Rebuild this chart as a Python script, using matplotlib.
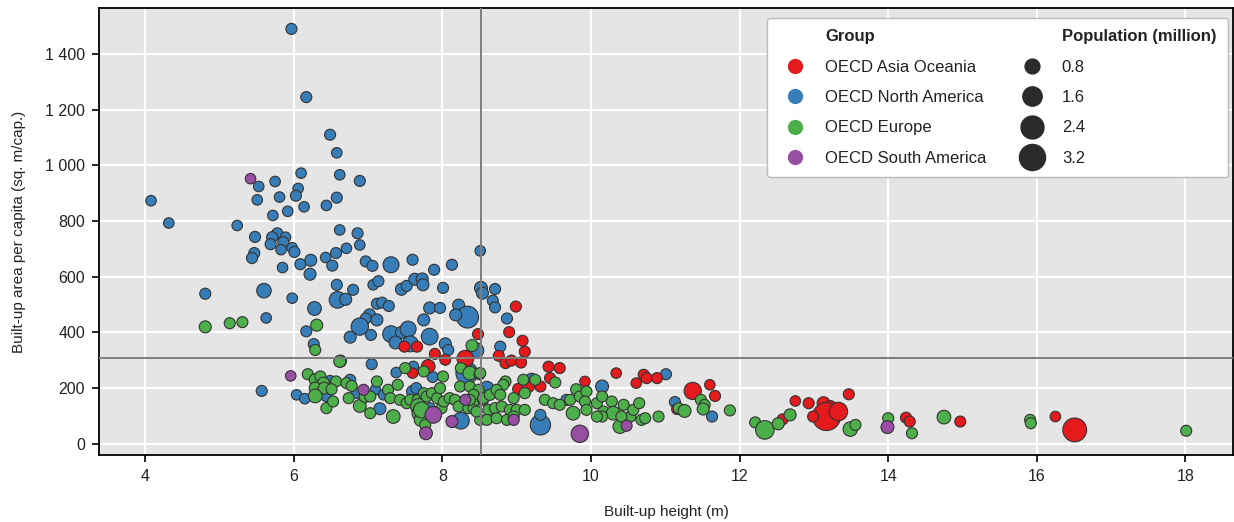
import matplotlib
matplotlib.use("Agg")
import matplotlib.pyplot as plt
from matplotlib.lines import Line2D
from matplotlib.ticker import FuncFormatter
import numpy as np

plt.rcParams['font.family'] = ['Liberation Sans', 'DejaVu Sans']

# ---------------- data ----------------
groups = ["OECD Asia Oceania", "OECD North America", "OECD Europe", "OECD South America"]
colors = ["#e41a1c", "#377eb8", "#4daf4a", "#984ea3"]

na_x = [5.97, 6.17, 6.49, 6.58, 6.10, 6.62, 6.89, 5.53, 5.75, 6.06, 6.03, 5.81, 5.51, 6.58, 6.44, 6.14,
        5.92, 5.72, 4.08, 4.32, 5.24, 5.48, 5.47, 5.44, 5.78, 5.71, 5.69, 5.89, 5.86, 5.83, 5.98, 6.01,
        5.85, 6.09, 6.23, 6.22, 6.43, 6.52, 6.57, 6.71, 6.62, 6.86, 6.89, 6.97, 7.06, 7.31, 7.60, 7.89,
        8.13, 8.51, 5.60, 5.98, 5.63, 4.81, 6.28, 6.58, 6.80, 6.59, 6.70, 7.07, 7.14, 7.45, 7.52, 7.63,
        7.73, 7.74, 8.01, 8.52, 8.54, 7.12, 7.19, 7.28, 7.83, 7.97, 8.22, 8.34, 8.18, 7.02, 6.97, 7.12,
        6.89, 6.17, 6.76, 7.04, 7.31, 7.45, 7.54, 7.37, 7.57, 7.83, 7.75, 8.04, 8.08, 8.45, 6.27, 7.05,
        8.71, 8.68, 8.71, 8.87, 8.78, 5.57, 6.04, 6.15, 7.38, 7.61, 6.49, 6.44, 6.76, 6.85, 7.10, 7.21,
        7.16, 7.60, 7.87, 8.33, 7.83, 8.25, 7.65, 8.60, 9.20, 9.32, 9.32, 9.67, 10.15, 11.01, 11.13, 11.63]
na_y = [1490, 1245, 1110, 1045, 972, 966, 944, 924, 942, 917, 891, 886, 876, 884, 856, 851,
        835, 820, 873, 793, 784, 743, 685, 667, 756, 742, 717, 742, 724, 697, 704, 689,
        633, 645, 659, 609, 669, 640, 685, 702, 768, 756, 714, 655, 639, 643, 661, 625,
        643, 693, 550, 523, 452, 539, 486, 571, 553, 517, 519, 571, 584, 555, 567, 591,
        592, 571, 560, 560, 541, 503, 507, 495, 488, 488, 498, 455, 463, 463, 450, 445,
        421, 404, 383, 391, 394, 400, 412, 364, 359, 385, 445, 359, 337, 335, 358, 286,
        556, 514, 490, 450, 349, 190, 176, 162, 256, 278, 227, 170, 230, 182, 194, 176,
        126, 188, 240, 254, 128, 83, 200, 200, 232, 68, 104, 158, 206, 250, 150, 98]
na_pop = [0.2, 0.2, 0.2, 0.15, 0.15, 0.15, 0.2, 0.15, 0.15, 0.15, 0.2, 0.15, 0.15, 0.2, 0.15, 0.15,
          0.15, 0.15, 0.15, 0.15, 0.15, 0.2, 0.2, 0.2, 0.2, 0.2, 0.2, 0.15, 0.2, 0.15, 0.15, 0.2,
          0.15, 0.2, 0.3, 0.3, 0.15, 0.2, 0.2, 0.15, 0.15, 0.2, 0.15, 0.2, 0.2, 0.8, 0.2, 0.2,
          0.2, 0.15, 0.6, 0.15, 0.15, 0.2, 0.5, 0.2, 0.2, 0.9, 0.3, 0.15, 0.2, 0.3, 0.2, 0.3,
          0.3, 0.3, 0.2, 0.4, 0.3, 0.2, 0.2, 0.2, 0.3, 0.2, 0.3, 1.8, 0.3, 0.3, 0.2, 0.3,
          1.0, 0.2, 0.3, 0.2, 0.9, 0.3, 0.8, 0.4, 0.8, 0.9, 0.3, 0.3, 0.2, 0.8, 0.2, 0.2,
          0.2, 0.2, 0.2, 0.2, 0.2, 0.2, 0.15, 0.15, 0.15, 0.15, 0.15, 0.15, 0.2, 0.15, 0.15, 0.15,
          0.3, 0.3, 0.2, 1.8, 0.2, 0.9, 0.2, 0.5, 0.3, 1.5, 0.2, 0.2, 0.4, 0.2, 0.2, 0.2]

ao_x = [8.48, 8.31, 8.04, 7.90, 7.49, 7.66, 8.99, 8.90, 9.08, 9.11, 8.76, 8.85, 8.93, 9.06, 9.43, 9.58,
        9.45, 10.34, 9.92, 10.61, 10.71, 10.75, 10.89, 9.02, 9.16, 9.32, 7.60, 7.81, 11.37, 11.60, 11.67,
        11.16, 12.58, 12.75, 12.93, 13.13, 13.22, 13.17, 13.33, 12.99, 13.47, 14.24, 14.29, 14.97,
        16.25, 16.51]
ao_y = [394, 306, 302, 323, 349, 349, 493, 401, 370, 331, 316, 290, 299, 292, 277, 272,
        236, 254, 224, 218, 248, 236, 236, 197, 206, 206, 254, 278, 190, 212, 172,
        125, 88, 154, 146, 146, 134, 98, 116, 98, 178, 94, 80, 80,
        98, 50]
ao_pop = [0.2, 0.9, 0.2, 0.2, 0.2, 0.2, 0.2, 0.2, 0.2, 0.2, 0.2, 0.2, 0.2, 0.2, 0.2, 0.2,
          0.2, 0.15, 0.15, 0.15, 0.2, 0.2, 0.2, 0.2, 0.3, 0.2, 0.15, 0.5, 1.0, 0.15, 0.2,
          0.2, 0.2, 0.15, 0.2, 0.4, 0.3, 3.2, 1.2, 0.2, 0.2, 0.2, 0.2, 0.2,
          0.15, 2.2]

eu_x = [4.81, 5.14, 5.31, 6.31, 6.29, 6.63, 8.40, 6.19, 6.29, 6.36, 6.40, 6.57, 6.29, 6.41, 6.51, 6.29,
        6.44, 6.53, 6.71, 6.78, 6.74, 6.89, 6.96, 7.03, 7.03, 7.12, 7.27, 7.30, 7.40, 7.34, 7.43, 7.52,
        7.57, 7.67, 7.75, 7.68, 7.70, 7.71, 7.77, 7.79, 7.86, 7.93, 7.97, 7.99, 8.02, 8.10, 8.17, 8.22,
        8.35, 8.42, 8.46, 8.55, 8.24, 8.37, 8.49, 7.50, 7.75, 8.01, 8.25, 8.37, 8.50, 8.51, 8.42, 8.55,
        8.64, 8.76, 8.85, 8.96, 9.09, 9.11, 9.25, 9.38, 9.49, 9.58, 9.72, 9.80, 9.85, 9.94, 9.92, 9.76,
        9.94, 10.08, 10.15, 10.17, 10.28, 10.30, 10.39, 10.44, 10.53, 10.57, 10.65, 10.68, 10.73, 10.91,
        8.62, 8.71, 8.80, 8.91, 9.00, 9.11, 8.51, 8.60, 8.73, 8.87, 8.96, 8.46, 8.37, 10.15, 10.41, 10.08,
        9.52, 11.18, 11.26, 11.48, 11.53, 11.51, 11.87, 12.21, 12.34, 12.52, 12.68, 13.49, 13.56, 14.00,
        14.32, 14.75, 15.91, 15.92, 18.01, 8.82, 8.73, 8.78, 7.72, 6.62]
eu_y = [420, 433, 437, 426, 337, 297, 353, 250, 230, 242, 218, 224, 200, 200, 196, 172,
        128, 152, 218, 208, 164, 136, 170, 170, 110, 224, 194, 164, 212, 98, 158, 146,
        158, 158, 182, 134, 110, 86, 68, 170, 182, 164, 200, 128, 152, 164, 158, 134,
        128, 128, 158, 158, 206, 206, 194, 272, 260, 242, 272, 254, 250, 254, 176, 164,
        176, 188, 224, 164, 230, 182, 230, 158, 146, 140, 158, 196, 170, 188, 152, 110,
        122, 146, 170, 116, 152, 110, 62, 140, 98, 122, 146, 86, 92, 98,
        122, 128, 134, 122, 122, 122, 86, 86, 92, 86, 98, 116, 158, 98, 98, 98,
        220, 128, 118, 158, 140, 125, 120, 77, 50, 72, 104, 53, 68, 92,
        38, 96, 86, 74, 47, 212, 194, 176, 122, 296]
eu_pop = [0.3, 0.2, 0.2, 0.3, 0.2, 0.3, 0.3, 0.2, 0.3, 0.2, 0.3, 0.2, 0.3, 0.3, 0.2, 0.5,
          0.2, 0.2, 0.2, 0.2, 0.2, 0.4, 0.3, 0.2, 0.2, 0.2, 0.2, 0.2, 0.2, 0.5, 0.2, 0.2,
          0.2, 0.2, 0.2, 0.8, 0.8, 0.4, 0.2, 0.2, 0.2, 0.2, 0.2, 0.2, 0.2, 0.2, 0.2, 0.2,
          0.2, 0.2, 0.2, 0.2, 0.2, 0.2, 0.2, 0.2, 0.2, 0.2, 0.2, 0.5, 0.2, 0.2, 0.2, 0.2,
          0.2, 0.2, 0.2, 0.2, 0.2, 0.2, 0.2, 0.2, 0.2, 0.2, 0.2, 0.2, 0.2, 0.2, 0.2, 0.5,
          0.2, 0.2, 0.2, 0.2, 0.2, 0.5, 0.5, 0.2, 0.2, 0.2, 0.2, 0.2, 0.2, 0.2,
          0.2, 0.2, 0.2, 0.2, 0.2, 0.2, 0.2, 0.2, 0.2, 0.2, 0.2, 0.2, 0.2, 0.2, 0.2, 0.2,
          0.2, 0.2, 0.4, 0.2, 0.2, 0.3, 0.2, 0.2, 1.2, 0.3, 0.3, 0.6, 0.2, 0.2,
          0.2, 0.5, 0.2, 0.2, 0.2, 0.2, 0.2, 0.2, 0.8, 0.3]

sa_x = [5.42, 5.96, 6.94, 7.78, 7.88, 8.13, 8.31, 8.96, 9.85, 10.48, 13.99]
sa_y = [952, 244, 194, 38, 104, 80, 158, 86, 36, 65, 60]
sa_pop = [0.15, 0.15, 0.2, 0.4, 0.9, 0.3, 0.2, 0.2, 1.0, 0.2, 0.4]

legend_pops = [0.8, 1.6, 2.4, 3.2]
height_threshold = 8.52
area_threshold = 309

x_ticks = [4, 6, 8, 10, 12, 14, 16, 18]
y_ticks = [0, 200, 400, 600, 800, 1000, 1200, 1400]


def size_of(p):
    return 40 + 115 * np.asarray(p, dtype=float)


# ---------------- figure ----------------
fig = plt.figure(figsize=(12.34, 5.22), dpi=100)
ax = fig.add_axes([0.0802, 0.1284, 0.9190, 0.8563])
ax.set_facecolor("#e5e5e5")

series = [
    (na_x, na_y, na_pop, colors[1]),
    (ao_x, ao_y, ao_pop, colors[0]),
    (eu_x, eu_y, eu_pop, colors[2]),
    (sa_x, sa_y, sa_pop, colors[3]),
]
for xs, ys, ps, c in series:
    ax.scatter(xs, ys, s=size_of(ps), c=c, edgecolors="#333333", linewidths=0.8, zorder=2)

ax.axvline(height_threshold, color="#7f7f7f", lw=1.4, zorder=3)
ax.axhline(area_threshold, color="#7f7f7f", lw=1.4, zorder=3)

ax.set_xlim(3.38, 18.64)
ax.set_ylim(-40, 1565)
ax.set_xticks(x_ticks)
ax.set_yticks(y_ticks)
ax.yaxis.set_major_formatter(FuncFormatter(lambda v, _: f"{v:,.0f}".replace(",", " ")))
ax.grid(True, color="white", lw=1.5, zorder=0)
ax.set_axisbelow(True)
for sp in ax.spines.values():
    sp.set_color("black")
    sp.set_linewidth(1.3)
ax.tick_params(direction="out", length=5, width=1.2, colors="black", labelsize=11.5,
               labelcolor="#222222", pad=5)

ax.set_xlabel("Built-up height (m)", fontsize=11, color="#222222", labelpad=15)
ax.set_ylabel("Built-up area per capita (sq. m/cap.)", fontsize=11, color="#222222", labelpad=14)

# legend
blank = Line2D([], [], linestyle="none", marker=None)
handles = [blank]
labels = ["Group"]
for g, c in zip(groups, colors):
    handles.append(Line2D([], [], linestyle="none", marker="o", markersize=11,
                          markerfacecolor=c, markeredgecolor="none"))
    labels.append(g)
handles.append(blank)
labels.append("Population (million)")
for p in legend_pops:
    handles.append(Line2D([], [], linestyle="none", marker="o",
                          markersize=float(np.sqrt(size_of(p))) * 0.93,
                          markerfacecolor="#2b2b2b", markeredgecolor="#2b2b2b"))
    labels.append(f"{p}")

leg = ax.legend(handles, labels, ncol=2, loc="upper right", bbox_to_anchor=(0.9956, 0.978),
                fontsize=12, frameon=True, framealpha=1, facecolor="white", edgecolor="#bbbbbb",
                labelspacing=0.92, handlelength=2.0, handletextpad=0.8, columnspacing=1.7,
                borderpad=0.7, borderaxespad=0.0, fancybox=True)
for i, t in enumerate(leg.get_texts()):
    t.set_color("#222222")
    if i in (0, 5):
        t.set_fontweight("bold")

fig.savefig("out.png", dpi=100)
